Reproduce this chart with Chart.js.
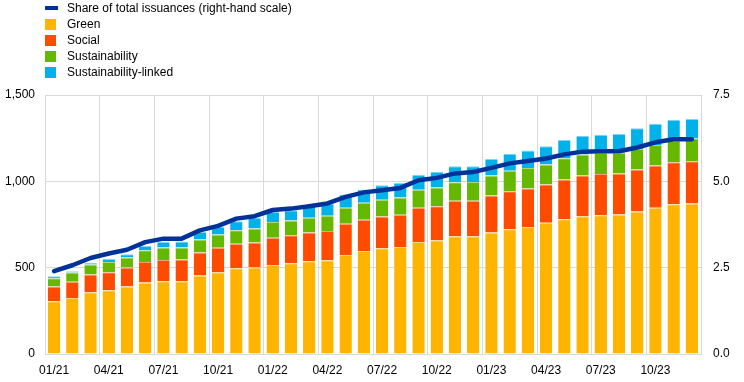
<!DOCTYPE html>
<html>
<head>
<meta charset="utf-8">
<script src="https://cdn.jsdelivr.net/npm/chart.js@4.4.1/dist/chart.umd.min.js"></script>
<style>
  html, body { margin: 0; padding: 0; background: #fff; }
  #wrap { position: relative; width: 744px; height: 382px; }
  #chart { position: absolute; left: 0; top: 0; }
  .lg { position: absolute; left: 0; height: 16px; width: 400px; font: 12px "Liberation Sans", Arial, sans-serif; color: #000; }
  .lg .sym { position: absolute; left: 45px; }
  .lg .txt { position: absolute; left: 67px; top: 0; line-height: 16px; white-space: nowrap; }
</style>
</head>
<body>
<div id="wrap">
  <canvas id="chart" width="744" height="382"></canvas>
  <div id="legend"></div>
</div>
<script>
// ---- data ----
const categories = ['01/21','02/21','03/21','04/21','05/21','06/21','07/21','08/21','09/21','10/21','11/21','12/21',
                    '01/22','02/22','03/22','04/22','05/22','06/22','07/22','08/22','09/22','10/22','11/22','12/22',
                    '01/23','02/23','03/23','04/23','05/23','06/23','07/23','08/23','09/23','10/23','11/23','12/23'];
const green = [305,325,358,369,391,414,421,421,455,474,497,501, 516,526,537,543,574,597,613,620,649,659,682,682, 704,723,735,760,781,798,804,808,826,847,868,872];
const social = [86,93,102,105,110,119,124,126,133,141,141,145, 157,162,167,170,180,180,184,186,198,197,205,205, 214,219,224,222,230,236,238,238,243,245,243,245];
const sustainability = [48,54,58,59,58,68,72,70,75,77,79,81, 91,85,85,87,93,99,96,101,104,109,108,109, 116,119,118,116,122,122,123,119,118,118,124,132];
const sustainabilityLinked = [11,7,10,18,19,25,32,35,44,44,52,62, 59,60,73,72,77,77,85,83,87,90,93,92, 95,99,102,105,106,108,105,109,120,124,122,112];
const shareOfTotal = [2.40,2.57,2.78,2.91,3.02,3.24,3.34,3.34,3.58,3.71,3.92,3.99, 4.17,4.21,4.28,4.36,4.55,4.68,4.74,4.81,5.03,5.10,5.23,5.27, 5.39,5.52,5.59,5.66,5.78,5.86,5.87,5.87,5.98,6.13,6.22,6.22];
const leftTicks = [0, 500, 1000, 1500];
const rightTicks = [0, 2.5, 5, 7.5];

const COLORS = { line: '#003299', green: '#FFB400', social: '#FF4B00', sust: '#65B800', sl: '#00B1EA' };
const EDGE = { green: '#FFD479', social: '#FF9A73', sust: '#A9D874', sl: '#7FD6F3' };
const GRID = '#d9d9d9';
const FONT = { family: '"Liberation Sans", Arial, sans-serif', size: 12 };

// ---- legend (HTML) ----
const legendItems = [
  { label: 'Share of total issuances (right-hand scale)', color: COLORS.line, type: 'line' },
  { label: 'Green', color: COLORS.green, type: 'box' },
  { label: 'Social', color: COLORS.social, type: 'box' },
  { label: 'Sustainability', color: COLORS.sust, type: 'box' },
  { label: 'Sustainability-linked', color: COLORS.sl, type: 'box' }
];
const lg = document.getElementById('legend');
legendItems.forEach((it, i) => {
  const row = document.createElement('div');
  row.className = 'lg';
  row.style.top = (i * 16) + 'px';
  const sym = document.createElement('div');
  sym.className = 'sym';
  sym.style.background = it.color;
  if (it.type === 'line') { sym.style.width = '13px'; sym.style.height = '4px'; sym.style.top = '6px'; }
  else { sym.style.width = '11px'; sym.style.height = '11px'; sym.style.top = '3px'; }
  const txt = document.createElement('div');
  txt.className = 'txt';
  txt.textContent = it.label;
  row.appendChild(sym); row.appendChild(txt);
  lg.appendChild(row);
});

// ---- chart ----
const barCommon = { type: 'bar', yAxisID: 'y', stack: 's', barPercentage: 0.68, categoryPercentage: 1.0,
  borderWidth: { top: 1, left: 0, right: 0, bottom: 0 }, borderSkipped: false, order: 1 };
new Chart(document.getElementById('chart'), {
  data: {
    labels: categories,
    datasets: [
      { type: 'line', label: 'Share of total issuances (right-hand scale)', data: shareOfTotal, yAxisID: 'y1',
        borderColor: COLORS.line, backgroundColor: COLORS.line, borderWidth: 4.5, pointRadius: 0, tension: 0,
        borderCapStyle: 'round', borderJoinStyle: 'round', order: 0 },
      Object.assign({ label: 'Green', data: green, backgroundColor: COLORS.green, borderColor: EDGE.green }, barCommon),
      Object.assign({ label: 'Social', data: social, backgroundColor: COLORS.social, borderColor: EDGE.social }, barCommon),
      Object.assign({ label: 'Sustainability', data: sustainability, backgroundColor: COLORS.sust, borderColor: EDGE.sust }, barCommon),
      Object.assign({ label: 'Sustainability-linked', data: sustainabilityLinked, backgroundColor: COLORS.sl, borderColor: EDGE.sl }, barCommon)
    ]
  },
  options: {
    responsive: false,
    animation: false,
    devicePixelRatio: 1,
    layout: { padding: { top: 95, left: 0, right: 0, bottom: 0 } },
    plugins: { legend: { display: false }, tooltip: { enabled: false } },
    scales: {
      x: {
        stacked: true,
        offset: true,
        grid: {
          offset: true,
          drawTicks: false,
          color: (c) => (c.type !== 'tick' || c.index % 3 === 0) ? GRID : 'rgba(0,0,0,0)'
        },
        border: { display: true, color: GRID },
        ticks: {
          autoSkip: false, maxRotation: 0, padding: 9, color: '#000', font: FONT,
          callback: function (v, i) { return i % 3 === 0 ? categories[i] : ''; }
        },
        afterFit: (a) => { a.height = 28; }
      },
      y: {
        type: 'linear', position: 'left', stacked: true,
        min: leftTicks[0], max: leftTicks[leftTicks.length - 1],
        afterBuildTicks: (a) => { a.ticks = leftTicks.map(v => ({ value: v })); },
        grid: { color: GRID, drawTicks: false },
        border: { display: true, color: GRID },
        ticks: { padding: 10, color: '#000', font: FONT,
          callback: (v) => v.toLocaleString('en-US') },
        afterFit: (a) => { a.width = 45; }
      },
      y1: {
        type: 'linear', position: 'right',
        min: rightTicks[0], max: rightTicks[rightTicks.length - 1],
        afterBuildTicks: (a) => { a.ticks = rightTicks.map(v => ({ value: v })); },
        grid: { drawOnChartArea: false, drawTicks: false },
        border: { display: true, color: GRID },
        ticks: { padding: 12, color: '#000', font: FONT,
          callback: (v) => Number(v).toFixed(1) },
        afterFit: (a) => { a.width = 43; }
      }
    }
  }
});
</script>
</body>
</html>
